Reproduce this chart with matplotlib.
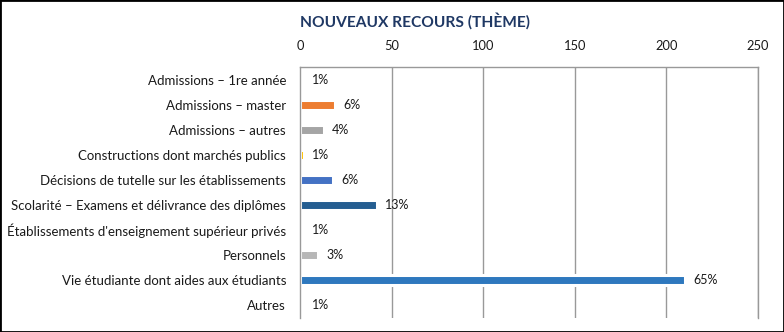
import numpy as np
import matplotlib.pyplot as plt
import matplotlib.patches as mpatches

categories = ["Admissions – 1re année",
              "Admissions – master",
              "Admissions – autres",
              "Constructions dont marchés publics",
              "Décisions de tutelle sur les établissements",
              "Scolarité – Examens et délivrance des diplômes",
              "Établissements d'enseignement supérieur privés",
              "Personnels",
              "Vie étudiante dont aides aux étudiants",
              "Autres"]
values = [2, 19, 13, 2, 18, 42, 2, 10, 210, 2]
pct_labels = ["1%", "6%", "4%", "1%", "6%", "13%", "1%", "3%", "65%", "1%"]
colors = ["#FFFFFF", "#ED7D31", "#A5A5A5", "#FFC000", "#4472C4",
          "#255E91", "#FFFFFF", "#B7B7B7", "#2E78BE", "#FFFFFF"]
xticks = [0, 50, 100, 150, 200, 250]

plt.rcParams['font.family'] = ['Lato', 'DejaVu Sans']

fig = plt.figure(figsize=(7.84, 3.32), dpi=100)
ax = fig.add_axes([300/784, 14/332, 458/784, 251/332])

y = np.arange(len(categories))
for xt in xticks[1:]:
    ax.axvline(xt, color='#999999', linewidth=1, zorder=1)
# white edges cut the gridlines like in the original
ax.barh(y, values, height=0.4, color=colors, edgecolor='white', linewidth=2.2, zorder=2)

for yi, v, lab in zip(y, values, pct_labels):
    ax.annotate(lab, (v, yi), xytext=(6, 0), textcoords='offset points',
                va='center', ha='left', fontsize=9, color='#1a1a1a', zorder=4)

ax.set_xlim(0, 250)
ax.set_ylim(len(categories) - 0.5, -0.5)
ax.set_xticks(xticks)
ax.set_yticks(y)
ax.set_yticklabels(categories, fontsize=9.5, color='#1a1a1a')
ax.tick_params(axis='x', top=False, bottom=False, labeltop=True, labelbottom=False,
               length=0, pad=10.8, labelsize=9.3, labelcolor='#1a1a1a')
ax.tick_params(axis='y', left=False, right=False, length=0, pad=10)
for s in ['top', 'left', 'right']:
    ax.spines[s].set_color('#999999')
    ax.spines[s].set_linewidth(1)
    ax.spines[s].set_zorder(3)
ax.spines['bottom'].set_visible(False)

fig.text(414.5/784, 1 - 21/332, "NOUVEAUX RECOURS (THÈME)", ha='center', va='center',
         fontsize=11.2, fontweight='bold', color='#1F3864')

fig.patches.append(mpatches.Rectangle((0, 0), 1, 1, transform=fig.transFigure,
                                      fill=False, edgecolor='black', linewidth=2))

fig.savefig("out.png", dpi=100)
